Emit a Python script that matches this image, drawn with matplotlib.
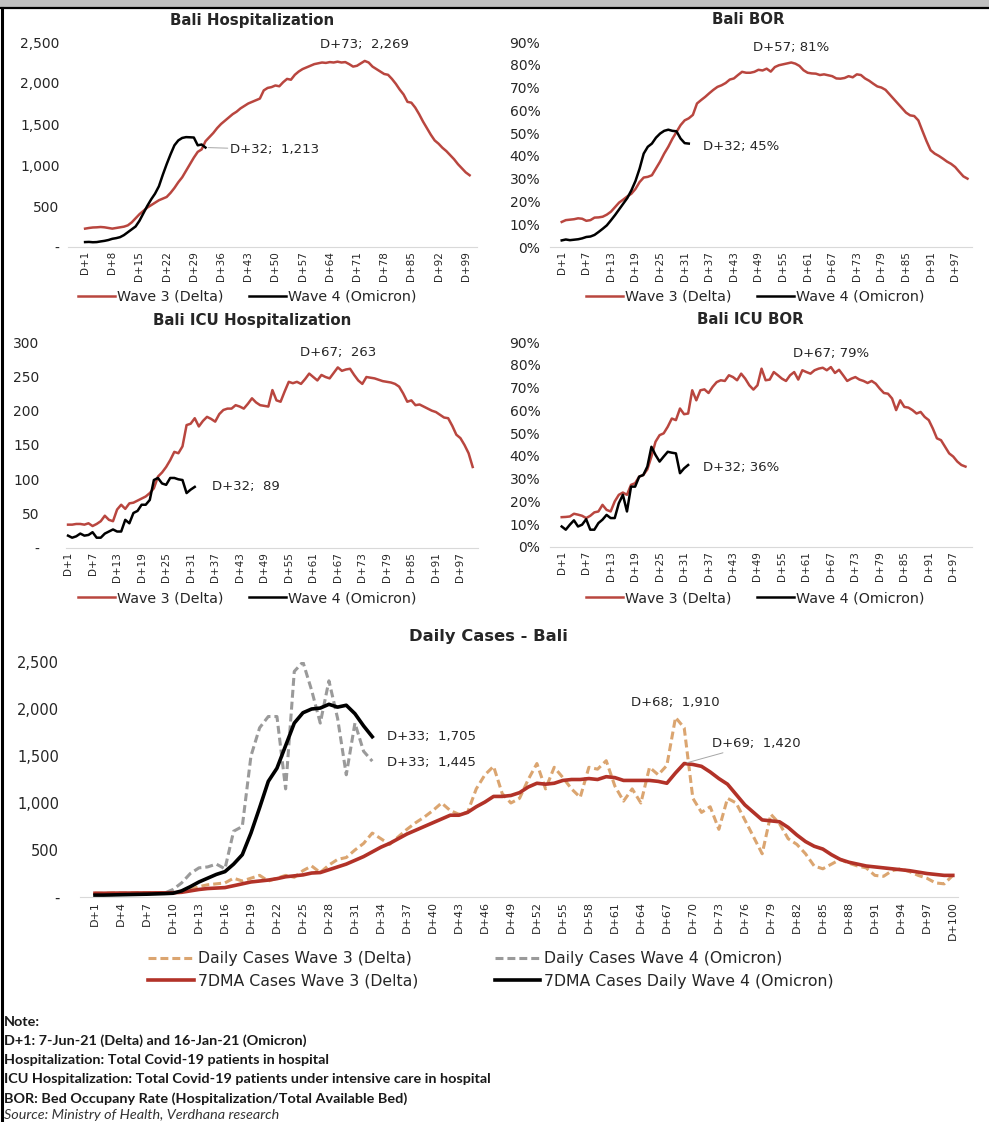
import matplotlib
matplotlib.use("Agg")
import matplotlib.pyplot as plt
from matplotlib.lines import Line2D
from matplotlib.patches import Rectangle
from matplotlib.ticker import FuncFormatter

# ---------------- data ----------------
hosp_w3 = [224, 232, 238, 240, 244, 240, 232, 224, 232, 240,
           248, 264, 300, 350, 400, 440, 480, 510, 540, 570,
           590, 610, 660, 720, 790, 850, 930, 1010, 1090, 1160,
           1190, 1290, 1340, 1390, 1450, 1500, 1540, 1580, 1620, 1650,
           1690, 1720, 1750, 1770, 1790, 1810, 1910, 1940, 1950, 1970,
           1960, 2010, 2050, 2040, 2100, 2140, 2170, 2190, 2210, 2230,
           2240, 2250, 2245, 2255, 2250, 2260, 2250, 2255, 2230, 2200,
           2210, 2240, 2269, 2250, 2200, 2170, 2140, 2110, 2100, 2050,
           1990, 1920, 1860, 1770, 1760, 1700, 1620, 1530, 1450, 1370,
           1300, 1260, 1210, 1170, 1120, 1070, 1010, 960, 910, 875]
hosp_w4 = [60, 62, 58, 60, 68, 75, 85, 100, 108, 120,
           145, 180, 215, 250, 320, 410, 500, 580, 650, 740,
           880, 1010, 1130, 1240, 1300, 1330, 1340, 1338, 1335, 1240,
           1250, 1213]

bor_w3 = [11.0, 11.8, 12.0, 12.2, 12.6, 12.4, 11.5, 11.8, 12.9, 13.0,
          13.3, 14.2, 15.5, 17.5, 19.5, 20.8, 22.2, 23.4, 25.5, 28.5,
          30.5, 30.8, 31.5, 34.5, 37.5, 41.0, 44.0, 47.5, 50.5, 53.5,
          55.6, 56.5, 58.0, 63.0, 64.5, 65.9, 67.5, 69.0, 70.3, 71.0,
          72.0, 73.5, 74.0, 75.5, 76.9, 76.5, 76.5, 76.9, 77.8, 77.5,
          78.3, 77.0, 79.0, 79.8, 80.2, 80.6, 81.0, 80.5, 79.5, 77.6,
          76.5, 76.2, 76.1, 75.5, 75.8, 75.4, 75.0, 74.0, 73.9, 74.2,
          75.0, 74.5, 75.8, 75.5, 74.0, 73.0, 71.7, 70.5, 70.0, 69.0,
          67.0, 65.0, 63.0, 61.0, 59.0, 57.8, 57.5, 55.6, 51.0, 46.5,
          42.5, 41.0, 40.0, 38.8, 37.5, 36.5, 35.1, 33.0, 31.0, 30.0]
bor_w4 = [2.9, 3.3, 3.0, 3.2, 3.4, 3.8, 4.4, 4.6, 5.3, 6.6,
          8.0, 9.5, 11.7, 14.0, 16.5, 19.0, 21.5, 24.9, 29.0, 34.4,
          41.0, 44.0, 45.4, 48.0, 49.8, 51.0, 51.5, 51.0, 50.8, 47.6,
          45.6, 45.4]

icu_w3 = [34, 34, 35, 35, 34, 36, 32, 35, 39, 47,
          41, 39, 56, 63, 57, 65, 66, 69, 72, 75,
          80, 87, 104, 110, 118, 128, 140, 138, 148, 179,
          181, 189, 177, 185, 191, 188, 184, 195, 201, 203,
          203, 208, 206, 203, 210, 218, 212, 208, 207, 206,
          230, 215, 213, 228, 242, 240, 242, 239, 246, 254,
          249, 244, 252, 249, 247, 255, 263, 258, 260, 261,
          252, 244, 239, 249, 248, 247, 245, 243, 242, 241,
          239, 235, 225, 213, 215, 208, 209, 206, 203, 200,
          198, 194, 190, 189, 178, 165, 160, 150, 138, 118]
icu_w4 = [18, 15, 17, 21, 18, 19, 23, 15, 15, 21,
          24, 27, 24, 24, 41, 36, 51, 54, 63, 63,
          70, 99, 102, 94, 92, 102, 102, 100, 99, 80,
          85, 89]

icubor_w3 = [13.1, 13.2, 13.4, 14.6, 14.2, 13.7, 12.7, 13.7, 15.2, 15.6,
             18.5, 16.3, 15.6, 20.0, 22.9, 23.9, 22.9, 27.3, 28.0, 30.9,
             31.6, 34.1, 39.7, 46.2, 49.1, 49.9, 52.8, 56.4, 55.7, 60.8,
             58.3, 58.6, 68.8, 64.4, 68.8, 69.2, 67.6, 70.3, 72.4, 73.2,
             72.9, 75.4, 74.6, 73.2, 76.1, 73.9, 71.0, 69.1, 71.0, 78.3,
             73.2, 73.5, 76.8, 75.4, 73.9, 72.9, 75.4, 76.8, 73.5, 77.6,
             76.8, 76.1, 77.6, 78.3, 78.7, 77.6, 79.0, 76.4, 77.8, 75.4,
             72.9, 73.9, 74.6, 73.5, 72.9, 72.0, 72.9, 71.7, 69.5, 67.6,
             67.3, 65.2, 60.1, 64.4, 61.5, 61.2, 60.1, 58.6, 59.3, 57.1,
             55.7, 52.0, 47.7, 46.9, 44.0, 41.1, 39.7, 37.5, 36.0, 35.3]
icubor_w4 = [9.0, 7.6, 9.8, 11.7, 9.0, 9.8, 12.2, 7.6, 7.6, 10.5,
             12.0, 14.1, 12.7, 12.7, 19.2, 22.9, 15.6, 26.5, 26.5, 30.9,
             31.6, 35.3, 44.0, 40.4, 37.5, 39.7, 41.8, 41.4, 41.1, 32.4,
             34.5, 36.0]

daily_w3 = [40, 38, 42, 40, 42, 44, 45, 44, 46, 50,
            60, 80, 110, 130, 140, 150, 200, 170, 200, 230,
            170, 200, 230, 210, 280, 330, 260, 340, 400, 420,
            500, 570, 680, 620, 560, 640, 720, 790, 850, 920,
            1000, 920, 880, 900, 1150, 1300, 1390, 1100, 1000, 1050,
            1250, 1420, 1150, 1380, 1270, 1150, 1060, 1380, 1360, 1450,
            1180, 1020, 1150, 1000, 1380, 1300, 1400, 1910, 1800, 1050,
            900, 960, 720, 1050, 1000, 820, 640, 460, 880, 780,
            620, 560, 460, 330, 300, 350, 400, 360, 330, 310,
            230, 220, 280, 300, 270, 230, 200, 150, 140, 230]
ma_w3 = [40, 40, 41, 42, 42, 43, 43, 44, 44, 45,
         50, 65, 80, 90, 95, 100, 120, 140, 160, 170,
         180, 195, 215, 225, 235, 255, 260, 290, 320, 350,
         390, 430, 480, 530, 570, 620, 670, 710, 750, 790,
         830, 870, 870, 900, 960, 1010, 1070, 1070, 1080, 1110,
         1170, 1210, 1200, 1210, 1240, 1250, 1250, 1260, 1250, 1280,
         1270, 1240, 1240, 1240, 1240, 1230, 1210, 1320, 1420, 1410,
         1390, 1330, 1260, 1200, 1090, 980, 900, 820, 810, 800,
         740, 660, 590, 540, 510, 450, 400, 370, 350, 330,
         320, 310, 300, 290, 280, 265, 250, 240, 230, 230]
daily_w4 = [30, 28, 25, 30, 32, 30, 35, 38, 40, 80,
            150, 250, 310, 320, 350, 300, 700, 750, 1500, 1800,
            1920, 1920, 1150, 2400, 2500, 2200, 1850, 2300, 1900, 1300,
            1850, 1550, 1445]
ma_w4 = [20, 20, 22, 24, 26, 28, 30, 33, 36, 40,
         65, 110, 160, 200, 240, 270, 350, 450, 680, 950,
         1230, 1370, 1610, 1850, 1960, 2000, 2010, 2050, 2020, 2040,
         1950, 1820, 1705]

days_w3 = list(range(1, 101))
tick_labels = ["D+%d" % d for d in days_w3]

RED = "#B9463F"
RED_DARK = "#B23228"
ORANGE = "#DBA570"
GREY = "#9A9A9A"
TXT = "#262626"

W, H = 989, 1122
fig = plt.figure(figsize=(W / 100, H / 100), dpi=100)


def px_axes(l, t, r, b):
    return fig.add_axes([l / W, 1 - b / H, (r - l) / W, (b - t) / H])


def num_fmt(v, pos):
    if abs(v) < 1e-9:
        return "-"
    return "{:,.0f}".format(v)


def pct_fmt(v, pos):
    return "{:.0f}%".format(v)


def style(ax, xlim, ylim, yticks, fmt, step, ypad):
    ax.set_xlim(*xlim)
    ax.set_ylim(*ylim)
    ax.set_yticks(yticks)
    ax.yaxis.set_major_formatter(FuncFormatter(fmt))
    ticks = days_w3[::step]
    ax.set_xticks(ticks)
    ax.set_xticklabels([tick_labels[d - 1] for d in ticks], rotation=90,
                       fontsize=7.5, color=TXT)
    for s in ("top", "right", "left"):
        ax.spines[s].set_visible(False)
    ax.spines["bottom"].set_color("#D9D9D9")
    ax.spines["bottom"].set_linewidth(0.8)
    ax.tick_params(axis="both", length=0)
    ax.tick_params(axis="x", pad=3)
    ax.tick_params(axis="y", pad=ypad, labelsize=10, labelcolor=TXT)
    ax.patch.set_visible(False)


def title(txt, cx, cy, size=10.8):
    fig.text(cx / W, 1 - cy / H, txt, ha="center", va="center",
             fontsize=size, fontweight="bold", color=TXT)


def small_legend(ax, cx, cy):
    ax.legend(loc="center", bbox_to_anchor=(cx / W, 1 - cy / H),
              bbox_transform=fig.transFigure, ncol=2, frameon=False,
              fontsize=10.3, handlelength=2.6, handletextpad=0.1,
              columnspacing=1.8, labelcolor=TXT)


def note(ax, txt, x, y, dx, dy, ha="left", line=False):
    # dx, dy in pixels, dy positive = upwards
    kw = {}
    if line:
        kw["arrowprops"] = dict(arrowstyle="-", color="#A6A6A6", lw=0.7,
                                shrinkA=0, shrinkB=2)
    ax.annotate(txt, xy=(x, y), xytext=(dx * 0.72, dy * 0.72),
                textcoords="offset points", ha=ha, va="center",
                fontsize=9.5, color=TXT, **kw)


# ---------------- Bali Hospitalization ----------------
ax1 = px_axes(68, 42, 477, 247)
ax1.plot(days_w3, hosp_w3, color=RED, lw=1.8, label="Wave 3 (Delta)")
ax1.plot(days_w3[:len(hosp_w4)], hosp_w4, color="black", lw=1.8,
         label="Wave 4 (Omicron)")
style(ax1, (-3.4, 101.9), (0, 2500), [0, 500, 1000, 1500, 2000, 2500],
      num_fmt, 7, 6)
title("Bali Hospitalization", 252, 20)
note(ax1, "D+73;  2,269", 73, 2269, 0, 16, ha="center")
note(ax1, "D+32;  1,213", 32, 1213, 25, -2, line=True)
small_legend(ax1, 247, 297)

# ---------------- Bali BOR ----------------
ax2 = px_axes(550, 42, 972, 247)
ax2.plot(days_w3, bor_w3, color=RED, lw=1.8, label="Wave 3 (Delta)")
ax2.plot(days_w3[:len(bor_w4)], bor_w4, color="black", lw=1.8,
         label="Wave 4 (Omicron)")
style(ax2, (-1.86, 101.1), (0, 90), list(range(0, 91, 10)), pct_fmt, 6, 7)
title("Bali BOR", 748, 20)
note(ax2, "D+57; 81%", 57, 81, 0, 15, ha="center")
note(ax2, "D+32; 45%", 32, 45, 14, -2)
small_legend(ax2, 755, 297)

# ---------------- Bali ICU Hospitalization ----------------
ax3 = px_axes(66, 342, 478, 548)
ax3.plot(days_w3, icu_w3, color=RED, lw=1.8, label="Wave 3 (Delta)")
ax3.plot(days_w3[:len(icu_w4)], icu_w4, color="black", lw=1.8,
         label="Wave 4 (Omicron)")
style(ax3, (0.5, 101.3), (0, 300), [0, 50, 100, 150, 200, 250, 300],
      num_fmt, 6, 19)
title("Bali ICU Hospitalization", 252, 320)
note(ax3, "D+67;  263", 67, 263, 0, 15, ha="center")
note(ax3, "D+32;  89", 32, 89, 17, 0)
small_legend(ax3, 247, 598)

# ---------------- Bali ICU BOR ----------------
ax4 = px_axes(550, 342, 972, 547)
ax4.plot(days_w3, icubor_w3, color=RED, lw=1.8, label="Wave 3 (Delta)")
ax4.plot(days_w3[:len(icubor_w4)], icubor_w4, color="black", lw=1.8,
         label="Wave 4 (Omicron)")
style(ax4, (-1.87, 101.6), (0, 90), list(range(0, 91, 10)), pct_fmt, 6, 7)
title("Bali ICU BOR", 750, 320)
note(ax4, "D+67; 79%", 67, 79, 0, 14, ha="center")
note(ax4, "D+32; 36%", 32, 36, 15, -2)
small_legend(ax4, 755, 598)

# ---------------- Daily Cases - Bali ----------------
ax5 = px_axes(80, 662, 958, 897)
l1, = ax5.plot(days_w3, daily_w3, color=ORANGE, lw=2.2, dashes=(2.6, 1.3),
               label="Daily Cases Wave 3 (Delta)")
l2, = ax5.plot(days_w3[:len(daily_w4)], daily_w4, color=GREY, lw=2.2,
               dashes=(2.6, 1.3), label="Daily Cases Wave 4 (Omicron)")
l3, = ax5.plot(days_w3, ma_w3, color=RED_DARK, lw=2.6,
               label="7DMA Cases Wave 3 (Delta)")
l4, = ax5.plot(days_w3[:len(ma_w4)], ma_w4, color="black", lw=2.6,
               label="7DMA Cases Daily Wave 4 (Omicron)")
style(ax5, (-0.73, 100.6), (0, 2500), [0, 500, 1000, 1500, 2000, 2500],
      num_fmt, 3, 15)
ax5.tick_params(axis="y", labelsize=10.5)
ax5.tick_params(axis="x", labelsize=8)
title("Daily Cases - Bali", 488, 637, size=11.8)
note(ax5, "D+33;  1,705", 33, ma_w4[32], 15, 0)
note(ax5, "D+33;  1,445", 33, daily_w4[32], 15, -1)
note(ax5, "D+68;  1,910", 68, 1910, 0, 15, ha="center")
note(ax5, "D+69;  1,420", 69, 1420, 28, 20, line=True)
ax5.legend([l1, l3, l2, l4], [l.get_label() for l in (l1, l3, l2, l4)],
           loc="center", bbox_to_anchor=(491 / W, 1 - 970 / H),
           bbox_transform=fig.transFigure, ncol=2, frameon=False,
           fontsize=11.3, handlelength=2.9, handletextpad=0.25,
           columnspacing=4.9, labelspacing=0.45, labelcolor=TXT)

# ---------------- notes ----------------
notes = ["Note:",
         "D+1: 7-Jun-21 (Delta) and 16-Jan-21 (Omicron)",
         "Hospitalization: Total Covid-19 patients in hospital",
         "ICU Hospitalization: Total Covid-19 patients under intensive care in hospital",
         "BOR: Bed Occupany Rate (Hospitalization/Total Available Bed)"]
for i, t in enumerate(notes):
    fig.text(4 / W, 1 - (1022 + i * 19.1) / H, t, ha="left", va="center",
             fontsize=10.4, fontweight="bold", family=["Lato", "DejaVu Sans"],
             color="#1a1a1a")
fig.text(4 / W, 1 - 1115 / H, "Source: Ministry of Health, Verdhana research",
         ha="left", va="center", fontsize=10.4, style="italic",
         family=["Lato", "DejaVu Sans"], color="#333333")

# ---------------- frame bits ----------------
fig.patches.append(Rectangle((0, 1 - 7 / H), 1, 7 / H, transform=fig.transFigure,
                             color="#BFBFBF", zorder=0))
fig.lines.append(Line2D([0, 1], [1 - 8 / H, 1 - 8 / H], transform=fig.transFigure,
                        color="black", lw=1.6))
fig.lines.append(Line2D([1.5 / W, 1.5 / W], [0, 1 - 8 / H],
                        transform=fig.transFigure, color="black", lw=2.2))

fig.savefig("out.png", dpi=100, facecolor="white")
